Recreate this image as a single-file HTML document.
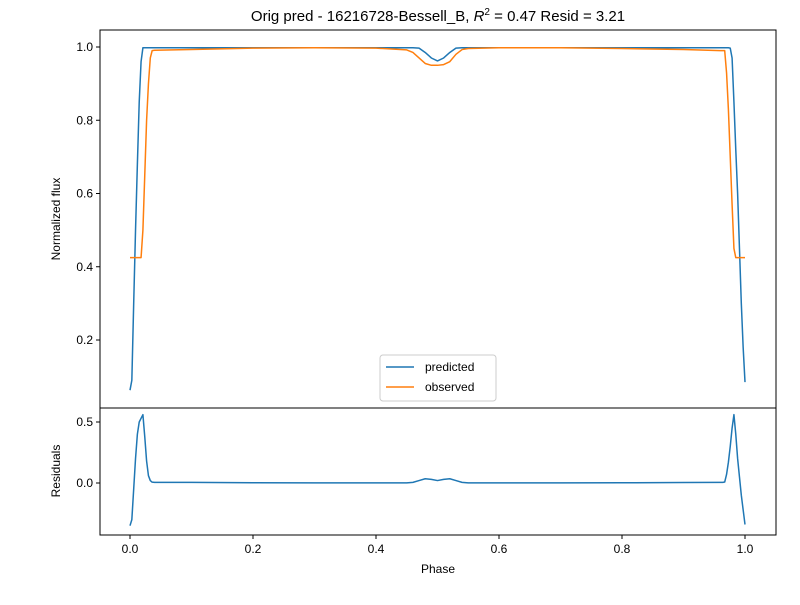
<!DOCTYPE html>
<html><head><meta charset="utf-8"><style>
body{margin:0;background:#fff;}
svg{font-family:"Liberation Sans","DejaVu Sans",sans-serif;}
</style></head><body>
<svg id="chart" width="800" height="600" viewBox="0 0 800 600">
<rect width="800" height="600" fill="#fff"/>
<text x="438" y="21" text-anchor="middle" font-size="15">Orig pred - 16216728-Bessell_B, <tspan font-style="italic">R</tspan><tspan dy="-6" font-size="10">2</tspan><tspan dy="6"> = 0.47 Resid = 3.21</tspan></text>
<g id="top"></g>
<g id="bot"></g>
</svg>
<script>
const phase=[0,0.003,0.006,0.009,0.012,0.015,0.018,0.021,0.024,0.027,0.03,0.033,0.036,0.04,0.1,0.2,0.3,0.4,0.45,0.46,0.47,0.48,0.49,0.5,0.51,0.52,0.53,0.54,0.55,0.6,0.7,0.8,0.9,0.96,0.964,0.967,0.97,0.973,0.976,0.979,0.982,0.985,0.988,0.991,0.994,0.997,1.0];
const predicted=[0.063,0.09,0.3,0.5,0.68,0.85,0.96,0.998,0.998,0.998,0.998,0.998,0.998,0.998,0.998,0.998,0.998,0.998,0.998,0.998,0.997,0.985,0.97,0.962,0.97,0.985,0.997,0.998,0.998,0.998,0.998,0.998,0.998,0.998,0.998,0.998,0.998,0.998,0.997,0.97,0.85,0.72,0.6,0.45,0.3,0.18,0.085];
const observed=[0.425,0.425,0.425,0.425,0.425,0.425,0.425,0.5,0.65,0.8,0.9,0.97,0.99,0.991,0.993,0.997,0.998,0.997,0.992,0.985,0.97,0.955,0.95,0.95,0.952,0.96,0.98,0.993,0.996,0.998,0.998,0.996,0.993,0.99,0.99,0.99,0.93,0.83,0.7,0.57,0.45,0.425,0.425,0.425,0.425,0.425,0.425];
const residuals=[-0.35,-0.3,-0.05,0.2,0.4,0.5,0.53,0.56,0.38,0.18,0.06,0.02,0.007,0.005,0.005,0.002,0.001,0.001,0.001,0.005,0.02,0.035,0.03,0.02,0.03,0.035,0.02,0.005,0.001,0.001,0.001,0.002,0.004,0.005,0.005,0.008,0.07,0.17,0.3,0.45,0.56,0.4,0.2,0.05,-0.1,-0.22,-0.34];
const xTicks=[0,0.2,0.4,0.6,0.8,1.0];
const xTickLabels=["0.0","0.2","0.4","0.6","0.8","1.0"];
const topTicks=[0.2,0.4,0.6,0.8,1.0];
const topTickLabels=["0.2","0.4","0.6","0.8","1.0"];
const botTicks=[0,0.5];
const botTickLabels=["0.0","0.5"];

const NS="http://www.w3.org/2000/svg";
const svg=document.getElementById('chart');
const X=p=>130+p*615;
const YT=v=>47+(1-v)*366.25;
const YB=v=>483-v*122;
function mk(tag,attrs,parent){const e=document.createElementNS(NS,tag);for(const k in attrs)e.setAttribute(k,attrs[k]);(parent||svg).appendChild(e);return e;}
function line(vals,yf,color,name){
  const d=phase.map((p,i)=>(i?'L':'M')+X(p).toFixed(2)+','+yf(vals[i]).toFixed(2)).join(' ');
  const e=mk('path',{d:d,fill:'none',stroke:color,'stroke-width':1.5,'stroke-linejoin':'round'});
  
  
}
line(predicted,YT,'#1f77b4','predicted-line');
line(observed,YT,'#ff7f0e','observed-line');
line(residuals,YB,'#1f77b4','residuals-line');
const topFrame=mk('rect',{x:100,y:30,width:676,height:378,fill:'none',stroke:'#000','stroke-width':1});


const botFrame=mk('rect',{x:100,y:408,width:676,height:127,fill:'none',stroke:'#000','stroke-width':1});


topTicks.forEach((v,i)=>{
  mk('line',{x1:96,x2:100,y1:YT(v),y2:YT(v),stroke:'#000'});
  const t=mk('text',{x:93,y:YT(v)+4,'text-anchor':'end','font-size':12});
  t.textContent=topTickLabels[i];
  
  
});
botTicks.forEach((v,i)=>{
  mk('line',{x1:96,x2:100,y1:YB(v),y2:YB(v),stroke:'#000'});
  const t=mk('text',{x:93,y:YB(v)+4,'text-anchor':'end','font-size':12});
  t.textContent=botTickLabels[i];
  
  
});
xTicks.forEach((v,i)=>{
  mk('line',{x1:X(v),x2:X(v),y1:535,y2:539,stroke:'#000'});
  const t=mk('text',{x:X(v),y:553,'text-anchor':'middle','font-size':12});
  t.textContent=xTickLabels[i];
  
  
});
let t=mk('text',{x:438,y:573,'text-anchor':'middle','font-size':12});t.textContent='Phase';


t=mk('text',{x:60,y:219,'text-anchor':'middle','font-size':12,transform:'rotate(-90 60 219)'});t.textContent='Normalized flux';


t=mk('text',{x:60,y:471,'text-anchor':'middle','font-size':12,transform:'rotate(-90 60 471)'});t.textContent='Residuals';


const lg=mk('g',{});


mk('rect',{x:380,y:355,width:116,height:46,rx:3,fill:'#fff','fill-opacity':0.8,stroke:'#ccc'},lg);
mk('line',{x1:386,x2:414,y1:367,y2:367,stroke:'#1f77b4','stroke-width':1.5},lg);
mk('line',{x1:386,x2:414,y1:387,y2:387,stroke:'#ff7f0e','stroke-width':1.5},lg);
t=mk('text',{x:425,y:371,'font-size':12},lg);t.textContent='predicted';


t=mk('text',{x:425,y:391,'font-size':12},lg);t.textContent='observed';


</script>
</body></html>
